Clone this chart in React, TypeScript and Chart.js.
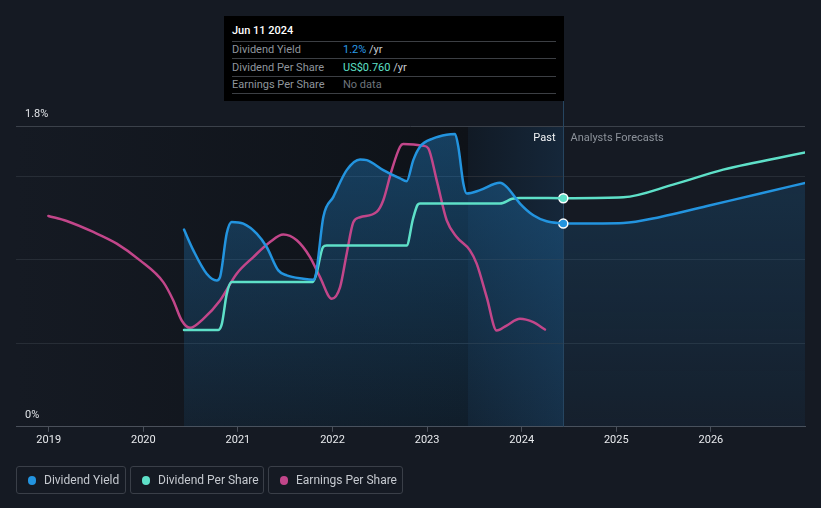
import React, { useEffect, useRef } from 'react';
import { Chart, registerables } from 'chart.js';

Chart.register(...registerables);

// ---- data (x in decimal years) ----
const xTickYears = [2019, 2020, 2021, 2022, 2023, 2024, 2025, 2026];
const yTickValues = [0, 0.5, 1, 1.5, 1.8];
const yLabelValues = [0, 1.8];

const yieldPastYears = [2020.43, 2020.529, 2020.67, 2020.776, 2020.811, 2020.882, 2020.934, 2021.057, 2021.199, 2021.304, 2021.427, 2021.516, 2021.691, 2021.797, 2021.826, 2021.903, 2022.009, 2022.15, 2022.291, 2022.362, 2022.537, 2022.714, 2022.784, 2022.854, 2022.925, 2023.066, 2023.207, 2023.295, 2023.33, 2023.383, 2023.419, 2023.559, 2023.77, 2023.841, 2023.982, 2024.123, 2024.264, 2024.44];
const yieldPastValues = [1.18, 1.056, 0.916, 0.876, 0.896, 1.158, 1.226, 1.216, 1.156, 1.076, 0.936, 0.906, 0.886, 0.88, 0.918, 1.256, 1.376, 1.536, 1.6, 1.596, 1.536, 1.486, 1.47, 1.596, 1.676, 1.726, 1.748, 1.752, 1.676, 1.456, 1.396, 1.416, 1.46, 1.436, 1.336, 1.266, 1.23, 1.216];
const yieldForecastYears = [2024.44, 2025.074, 2025.466, 2025.994, 2026.523, 2027.0];
const yieldForecastValues = [1.216, 1.22, 1.256, 1.326, 1.396, 1.46];

const dpsPastYears = [2020.43, 2020.793, 2020.83, 2020.882, 2020.934, 2021.791, 2021.83, 2021.9, 2021.938, 2022.784, 2022.85, 2022.9, 2022.925, 2023.77, 2023.9, 2023.982, 2024.44];
const dpsPastValues = [0.322, 0.322, 0.342, 0.442, 0.481, 0.481, 0.509, 0.598, 0.603, 0.603, 0.69, 0.738, 0.742, 0.742, 0.758, 0.761, 0.76];
const dpsForecastYears = [2024.44, 2025.074, 2025.6, 2026.13, 2027.0];
const dpsForecastValues = [0.76, 0.763, 0.805, 0.855, 0.912];

const epsYears = [2018.996, 2019.19, 2019.471, 2019.719, 2019.965, 2020.211, 2020.317, 2020.406, 2020.494, 2020.634, 2020.811, 2020.987, 2021.163, 2021.339, 2021.48, 2021.622, 2021.762, 2021.868, 2021.992, 2022.08, 2022.15, 2022.22, 2022.291, 2022.467, 2022.537, 2022.626, 2022.714, 2022.748, 2022.96, 2023.013, 2023.101, 2023.207, 2023.313, 2023.453, 2023.524, 2023.63, 2023.736, 2023.841, 2023.982, 2024.123, 2024.246];
const epsValues = [2.103, 2.053, 1.943, 1.827, 1.66, 1.443, 1.26, 1.06, 0.987, 1.077, 1.26, 1.527, 1.693, 1.843, 1.917, 1.86, 1.693, 1.493, 1.277, 1.393, 1.727, 2.04, 2.09, 2.143, 2.26, 2.56, 2.793, 2.82, 2.803, 2.777, 2.46, 2.06, 1.893, 1.76, 1.627, 1.293, 0.96, 1.01, 1.077, 1.043, 0.97];

const highlightStartYear = 2023.432;
const todayYear = 2024.44;
const xMin = 2018.654;
const xMax = 2026.995;

const BLUE = '#2394df';
const TEAL = '#5ee0c8';
const PINK = '#c2468a';
const BG = '#151a23';
const FONT = 'Roboto, "Noto Sans", sans-serif';

const zip = (xs: number[], ys: number[]) => xs.map((x, i) => ({ x, y: ys[i] }));

const bandsPlugin = {
  id: 'bands',
  beforeDraw(chart: any) {
    const { ctx, chartArea, scales } = chart;
    const x = scales.x;
    const xl = chartArea.left;
    const x1 = x.getPixelForValue(highlightStartYear);
    const x2 = x.getPixelForValue(todayYear);
    const h = chartArea.bottom - chartArea.top;
    ctx.save();
    const g1 = ctx.createLinearGradient(xl, 0, x1, 0);
    g1.addColorStop(0, BG);
    g1.addColorStop(1, '#0e1218');
    ctx.fillStyle = g1;
    ctx.fillRect(xl, chartArea.top, x1 - xl, h);
    const g2 = ctx.createLinearGradient(x1, 0, x2, 0);
    g2.addColorStop(0, '#111a25');
    g2.addColorStop(1, '#15273a');
    ctx.fillStyle = g2;
    ctx.fillRect(x1, chartArea.top, x2 - x1, h);
    ctx.restore();
  },
  beforeDatasetsDraw(chart: any) {
    const { ctx, chartArea, scales } = chart;
    const px = Math.round(scales.x.getPixelForValue(todayYear)) + 0.5;
    ctx.save();
    ctx.strokeStyle = '#264560';
    ctx.lineWidth = 1;
    ctx.beginPath();
    ctx.moveTo(px, 101);
    ctx.lineTo(px, chartArea.bottom);
    ctx.stroke();
    ctx.restore();
  },
  afterDatasetsDraw(chart: any) {
    const { ctx, chartArea, scales } = chart;
    const px = Math.round(scales.x.getPixelForValue(todayYear)) + 0.5;
    ctx.save();
    ctx.font = `11px ${FONT}`;
    ctx.textBaseline = 'middle';
    ctx.textAlign = 'right';
    ctx.fillStyle = '#f2f4f6';
    ctx.fillText('Past', px - 8, chartArea.top + 12);
    ctx.textAlign = 'left';
    ctx.fillStyle = '#8c929a';
    ctx.fillText('Analysts Forecasts', px + 7, chartArea.top + 12);
    ctx.restore();
  },
};

function gradient(chart: any, topA: number, botA: number) {
  const { ctx, chartArea } = chart;
  if (!chartArea) return `rgba(30,110,170,${topA})`;
  const g = ctx.createLinearGradient(0, chartArea.top, 0, chartArea.bottom);
  g.addColorStop(0, `rgba(30,110,170,${topA})`);
  g.addColorStop(1, `rgba(30,110,170,${botA})`);
  return g;
}

function ChartCanvas() {
  const ref = useRef<HTMLCanvasElement | null>(null);
  useEffect(() => {
    if (!ref.current) return;
    const lineBase = {
      pointRadius: 0,
      pointHoverRadius: 0,
      borderWidth: 2.5,
      cubicInterpolationMode: 'monotone' as const,
      borderCapStyle: 'round' as const,
    };
    const chart = new Chart(ref.current, {
      type: 'line',
      data: {
        datasets: [
          {
            ...lineBase,
            label: 'Dividend Yield',
            data: zip(yieldPastYears, yieldPastValues),
            borderColor: BLUE,
            fill: 'origin',
            backgroundColor: (c: any) => gradient(c.chart, 0.5, 0.12),
            yAxisID: 'y',
          },
          {
            ...lineBase,
            label: 'Dividend Yield forecast',
            data: zip(yieldForecastYears, yieldForecastValues),
            borderColor: BLUE,
            fill: 'origin',
            backgroundColor: (c: any) => gradient(c.chart, 0.28, 0.08),
            yAxisID: 'y',
            pointRadius: (c: any) => (c.dataIndex === 0 ? 4.5 : 0),
            pointBackgroundColor: BLUE,
            pointBorderColor: '#ffffff',
            pointBorderWidth: 1.5,
          },
          {
            ...lineBase,
            label: 'Dividend Per Share',
            data: zip(dpsPastYears, dpsPastValues),
            borderColor: TEAL,
            fill: false,
            yAxisID: 'yDps',
          },
          {
            ...lineBase,
            label: 'Dividend Per Share forecast',
            data: zip(dpsForecastYears, dpsForecastValues),
            borderColor: TEAL,
            fill: false,
            yAxisID: 'yDps',
            pointRadius: (c: any) => (c.dataIndex === 0 ? 4.5 : 0),
            pointBackgroundColor: TEAL,
            pointBorderColor: '#ffffff',
            pointBorderWidth: 1.5,
          },
          {
            ...lineBase,
            label: 'Earnings Per Share',
            data: zip(epsYears, epsValues),
            borderColor: PINK,
            fill: false,
            yAxisID: 'yEps',
          },
        ],
      },
      options: {
        animation: false,
        responsive: false,
        maintainAspectRatio: false,
        events: [],
        layout: { padding: { left: 16, right: 16, top: 126, bottom: 59 } },
        plugins: {
          legend: { display: false },
          tooltip: { enabled: false },
          filler: { drawTime: 'beforeDatasetsDraw' },
        } as any,
        scales: {
          x: {
            type: 'linear',
            min: xMin,
            max: xMax,
            afterBuildTicks: (s: any) => {
              s.ticks = xTickYears.map((v) => ({ value: v }));
            },
            ticks: {
              color: '#e8eaed',
              font: { family: FONT, size: 11 },
              padding: 2,
              maxRotation: 0,
              autoSkip: false,
              callback: (v: any) => String(v),
            },
            grid: { drawOnChartArea: false, drawTicks: true, tickLength: 5, tickColor: '#4a505a' },
            border: { display: true, color: '#4a505a', width: 1 },
          },
          y: {
            type: 'linear',
            min: 0,
            max: 1.8,
            afterBuildTicks: (s: any) => {
              s.ticks = yTickValues.map((v) => ({ value: v }));
            },
            afterFit: (s: any) => {
              s.width = 0;
            },
            ticks: {
              mirror: true,
              padding: 9,
              labelOffset: -12,
              color: '#e0e3e7',
              font: { family: FONT, size: 11 },
              callback: (v: any) => (yLabelValues.includes(Number(v)) ? `${v}%` : ''),
            },
            grid: {
              drawTicks: false,
              color: (c: any) => (c.tick && c.tick.value === 1.8 ? '#3b414a' : '#272d36'),
            },
            border: { display: false },
          },
          yDps: { type: 'linear', min: 0, max: 1.0, display: false },
          yEps: { type: 'linear', min: 0, max: 3.0, display: false },
        },
      } as any,
      plugins: [bandsPlugin],
    });
    return () => chart.destroy();
  }, []);
  return <canvas ref={ref} width={821} height={508} style={{ position: 'absolute', left: 0, top: 0, width: 821, height: 508 }} />;
}

const tooltipRows = [
  { label: 'Dividend Yield', value: '1.2%', color: '#2a9bea', unit: ' /yr' },
  { label: 'Dividend Per Share', value: 'US$0.760', color: '#5ee0c8', unit: ' /yr' },
  { label: 'Earnings Per Share', value: 'No data', color: '#6f757d', unit: '' },
];

const legendItems = [
  { label: 'Dividend Yield', color: BLUE, left: 16, width: 110 },
  { label: 'Dividend Per Share', color: TEAL, left: 130, width: 134 },
  { label: 'Earnings Per Share', color: PINK, left: 268, width: 135 },
];

export default function App() {
  return (
    <div style={{ position: 'fixed', left: 0, top: 0, width: 821, height: 508, background: BG, overflow: 'hidden', fontFamily: FONT }}>
      <ChartCanvas />
      <div style={{ position: 'absolute', left: 224, top: 16, width: 340, height: 85, background: '#000' }}>
        <div style={{ position: 'absolute', left: 8, top: 8, fontSize: 11, fontWeight: 500, color: '#fff', lineHeight: '14px' }}>Jun 11 2024</div>
        {[25, 42, 60, 77].map((t) => (
          <div key={t} style={{ position: 'absolute', left: 8, top: t, width: 324, height: 1, background: '#3c3f44' }} />
        ))}
        {tooltipRows.map((r, i) => (
          <div key={r.label} style={{ position: 'absolute', left: 8, top: 26 + i * 17.5, height: 16, lineHeight: '16px', fontSize: 11, width: 330 }}>
            <span style={{ color: '#8f959c' }}>{r.label}</span>
            <span style={{ position: 'absolute', left: 111 }}>
              <span style={{ color: r.color }}>{r.value}</span>
              <span style={{ color: '#c8ccd2' }}>{r.unit}</span>
            </span>
          </div>
        ))}
      </div>
      {legendItems.map((it) => (
        <div key={it.label} style={{ position: 'absolute', left: it.left, top: 466, width: it.width, height: 28, boxSizing: 'border-box', border: '1px solid #3a3f48', borderRadius: 3 }}>
          <div style={{ position: 'absolute', left: 11, top: 9, width: 8, height: 9, borderRadius: 5, background: it.color }} />
          <div style={{ position: 'absolute', left: 27, top: 0, lineHeight: '26px', fontSize: 12, color: '#c5c9cf', whiteSpace: 'nowrap' }}>{it.label}</div>
        </div>
      ))}
    </div>
  );
}
